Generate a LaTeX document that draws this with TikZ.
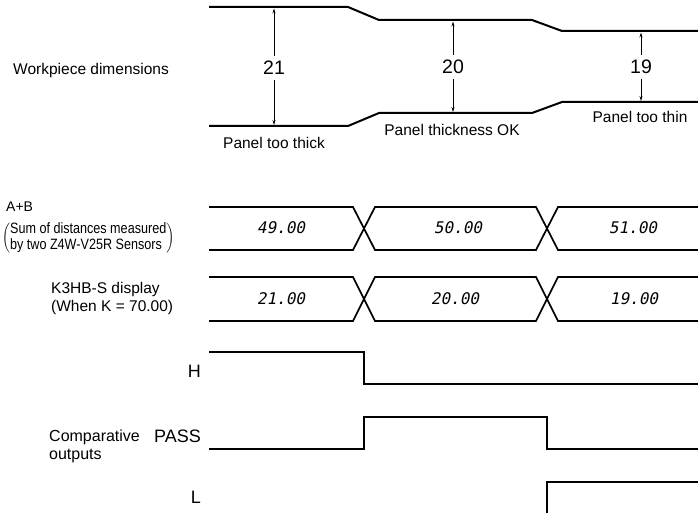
\documentclass[tikz,border=0pt]{standalone}
\usepackage{fontspec}
\setmainfont{Liberation Sans}
\newfontfamily\narrowfont[FakeStretch=0.84]{Liberation Sans}
\newfontfamily\segfont[FakeSlant=0.2]{DejaVu Sans Mono}
\usepackage{tikz}
\usetikzlibrary{arrows.meta}

\begin{document}
\begin{tikzpicture}[
    x=1pt, y=-1pt,
    lbl/.style={inner sep=0pt, font=\fontsize{15.5}{18}\selectfont},
    siglbl/.style={inner sep=0pt, anchor=east, font=\fontsize{18}{20}\selectfont},
    dimnum/.style={inner sep=5pt, font=\fontsize{19.5}{21}\selectfont},
    valtxt/.style={inner sep=0pt, font=\fontsize{16}{18}\segfont},
    edge/.style={line width=2pt, line join=miter},
    bus/.style={line width=1.7pt},
    wave/.style={line width=1.8pt},
    arr/.style={-{Stealth[length=5pt, width=3pt]}, line width=0.7pt}
]
\useasboundingbox (0,0) rectangle (698,513);

%% ===== WORKPIECE PROFILE =====
\coordinate (t21) at (274,8.5);   \coordinate (b21) at (274,125);
\coordinate (t20) at (453,21.5);  \coordinate (b20) at (453,112);
\coordinate (t19) at (641,32.5);  \coordinate (b19) at (641,101);

\draw[edge] (209,7) -- (348,7) -- (379,20) -- (532,20) -- (562,31) -- (698,31);
\draw[edge] (209,126) -- (348,126) -- (379,113) -- (532,113) -- (562,102) -- (698,102);

\node[lbl, anchor=west] (wp) at (13,70) {Workpiece dimensions};

\node[dimnum] (n21) at (274,68) {21};
\node[dimnum] (n20) at (453,67) {20};
\node[dimnum] (n19) at (641,67) {19};

\draw[arr] (n21) -- (t21);
\draw[arr] (n21) -- (b21);
\draw[arr] (n20) -- (t20);
\draw[arr] (n20) -- (b20);
\draw[arr] (n19) -- (t19);
\draw[arr] (n19) -- (b19);

\node[lbl] (thick) at (274,143) {Panel too thick};
\node[lbl] (ok)    at (452,130) {Panel thickness OK};
\node[lbl] (thin)  at (640,117) {Panel too thin};

%% ===== DISPLAY ROWS =====
\node[lbl, anchor=west, font=\fontsize{14}{16}\selectfont] (ab) at (6,207) {A+B};
\node[inner sep=0pt, anchor=west, font=\fontsize{15}{16.5}\narrowfont] (sum) at (2,238)
     {$\delimitershortfall=4pt\left(\mbox{\begin{tabular}{@{}l@{}}Sum of distances measured\\by two Z4W-V25R Sensors\end{tabular}}\right)$};
\node[lbl, anchor=west, align=left] (k3) at (51,298) {K3HB-S display\\(When K = 70.00)};

\draw[bus] (209,207) -- (353,207) -- (375,250) -- (536,250) -- (558,207) -- (698,207);
\draw[bus] (209,250) -- (353,250) -- (375,207) -- (536,207) -- (558,250) -- (698,250);
\draw[bus] (209,277) -- (353,277) -- (375,321) -- (536,321) -- (558,277) -- (698,277);
\draw[bus] (209,321) -- (353,321) -- (375,277) -- (536,277) -- (558,321) -- (698,321);

\node[valtxt] (s49) at (281,228) {49.00};
\node[valtxt] (s50) at (458,228) {50.00};
\node[valtxt] (s51) at (633,228) {51.00};
\node[valtxt] (d21) at (281,299) {21.00};
\node[valtxt] (d20) at (455,299) {20.00};
\node[valtxt] (d19) at (634,299) {19.00};

%% ===== COMPARATIVE OUTPUTS =====
\node[siglbl] (hl) at (201,371) {H};
\node[siglbl] (pl) at (201,436) {PASS};
\node[siglbl] (ll) at (201,497) {L};
\node[lbl, anchor=west, align=left, font=\fontsize{16}{18}\selectfont] (cmp) at (49,446) {Comparative\\outputs};

\draw[wave] (209,352) -- (364,352) -- (364,384) -- (698,384);
\draw[wave] (209,449) -- (364,449) -- (364,417) -- (547,417) -- (547,449) -- (698,449);
\draw[wave] (547,513) -- (547,482) -- (698,482);

\end{tikzpicture}
\end{document}
